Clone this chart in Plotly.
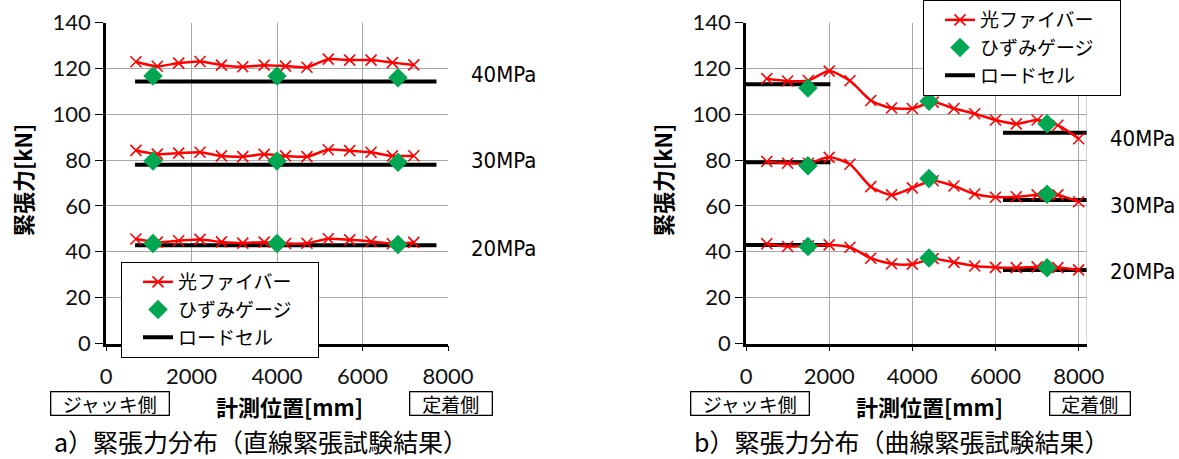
import plotly.graph_objects as go

W, H = 1179, 459

# ---------------- data ----------------
# a) straight tendon
a_fiber_x = [700, 1200, 1700, 2200, 2700, 3200, 3700, 4200, 4700, 5200, 5700, 6200, 6700, 7200]
a_fiber_40 = [122.9, 120.9, 122.3, 123.0, 121.4, 120.7, 121.4, 121.0, 120.5, 124.0, 123.6, 123.6, 122.5, 121.5]
a_fiber_30 = [84.2, 82.6, 83.0, 83.4, 81.8, 81.5, 82.5, 81.8, 81.5, 84.5, 84.1, 83.4, 81.8, 81.9]
a_fiber_20 = [45.6, 44.2, 44.8, 45.4, 44.3, 43.8, 44.2, 43.6, 43.7, 45.7, 45.2, 44.5, 43.5, 44.1]
a_gauge_x = [1100, 4000, 6830]
a_gauge_40 = [116.7, 116.7, 115.9]
a_gauge_30 = [79.6, 79.6, 79.0]
a_gauge_20 = [43.6, 43.6, 43.2]
a_cell_x = [680, 7730]
a_cell_40 = [114.3, 114.3]
a_cell_30 = [78.0, 78.0]
a_cell_20 = [42.8, 42.8]

# b) curved tendon
b_fiber_x = [500, 1000, 1500, 2000, 2500, 3000, 3500, 4000, 4500, 5000, 5500, 6000, 6500, 7000, 7500, 8000]
b_fiber_40 = [115.5, 114.5, 114.7, 118.8, 114.6, 106.0, 102.7, 102.5, 105.3, 102.5, 100.2, 97.5, 95.8, 97.5, 95.2, 89.3]
b_fiber_30 = [79.4, 78.6, 78.6, 81.2, 78.2, 68.4, 64.8, 67.9, 71.0, 68.7, 65.2, 63.8, 64.0, 64.8, 64.8, 61.8]
b_fiber_20 = [43.5, 42.3, 42.6, 43.0, 42.0, 37.2, 34.8, 34.6, 37.0, 35.4, 33.8, 33.2, 33.1, 33.4, 33.1, 32.1]
b_gauge_x = [1490, 4400, 7240]
b_gauge_40 = [111.4, 105.6, 95.8]
b_gauge_30 = [77.5, 72.0, 65.1]
b_gauge_20 = [42.3, 37.3, 33.0]
b_cell_left_x = [0, 2030]
b_cell_right_x = [6180, 8200]
b_cell_40 = [113.1, 91.9]
b_cell_30 = [79.0, 62.6]
b_cell_20 = [43.0, 32.1]

y_ticks = [0, 20, 40, 60, 80, 100, 120, 140]
x_ticks = [0, 2000, 4000, 6000, 8000]
names = ["光ファイバー", "ひずみゲージ", "ロードセル"]
levels = ["40MPa", "30MPa", "20MPa"]

# ---------------- style ----------------
RED = "#ff0000"
GREEN = "#00a651"
JP = "Noto Sans CJK JP"
NUM = "Lato, Noto Sans, sans-serif"
NARROW = "DejaVu Sans Condensed, Liberation Sans Narrow, sans-serif"
PAD = "\u00a0" * 5  # trailing blank to widen the legend box like the original


def px(x):
    return x / W


def py(y):
    return 1 - y / H


fig = go.Figure()


def add_panel(xa, ya, leg, fx, fys, gx, gys, cells):
    first = True
    for cx, cy in cells:
        fig.add_trace(go.Scatter(
            x=cx, y=cy, mode="lines", xaxis=xa, yaxis=ya,
            line=dict(color="black", width=4), name=names[2],
            legend=leg, legendgroup=leg + "c", showlegend=first, legendrank=3))
        first = False
    first = True
    for fy in fys:
        fig.add_trace(go.Scatter(
            x=fx, y=fy, mode="lines+markers", xaxis=xa, yaxis=ya,
            line=dict(color=RED, width=2.5, shape="spline", smoothing=0.7),
            marker=dict(symbol="x-thin", size=11, line=dict(color=RED, width=1.6), color=RED),
            name=names[0], legend=leg, legendgroup=leg + "f", showlegend=first, legendrank=1))
        first = False
    first = True
    for gy in gys:
        fig.add_trace(go.Scatter(
            x=gx, y=gy, mode="markers", xaxis=xa, yaxis=ya,
            marker=dict(symbol="diamond", size=15, color=GREEN),
            name=names[1] + PAD, legend=leg, legendgroup=leg + "g", showlegend=first,
            legendrank=2))
        first = False


add_panel("x", "y", "legend", a_fiber_x, [a_fiber_40, a_fiber_30, a_fiber_20],
          a_gauge_x, [a_gauge_40, a_gauge_30, a_gauge_20],
          [(a_cell_x, a_cell_40), (a_cell_x, a_cell_30), (a_cell_x, a_cell_20)])
add_panel("x2", "y2", "legend2", b_fiber_x, [b_fiber_40, b_fiber_30, b_fiber_20],
          b_gauge_x, [b_gauge_40, b_gauge_30, b_gauge_20],
          [(b_cell_left_x, [b_cell_40[0]] * 2), (b_cell_right_x, [b_cell_40[1]] * 2),
           (b_cell_left_x, [b_cell_30[0]] * 2), (b_cell_right_x, [b_cell_30[1]] * 2),
           (b_cell_left_x, [b_cell_20[0]] * 2), (b_cell_right_x, [b_cell_20[1]] * 2)])

ydom = [py(343.5), py(22.5)]
axis_common = dict(
    showline=True, linecolor="black", linewidth=2.5,
    showgrid=True, gridcolor="#a6a6a6", gridwidth=1,
    ticks="outside", tickcolor="black", tickwidth=1.2,
    tickfont=dict(family=NUM, size=22, color="#111111"), zeroline=False,
)
yaxis_style = dict(axis_common, range=[0, 140], tickvals=y_ticks, ticklen=8, domain=ydom)
xaxis_style = dict(axis_common, tickvals=x_ticks, ticklen=5, ticklabelstandoff=6)

legend_common = dict(xanchor="left", yanchor="top", bgcolor="white", bordercolor="black",
                     borderwidth=1, font=dict(family=JP, size=19, color="black"),
                     tracegroupgap=6, traceorder="normal", indentation=16)

fig.update_layout(
    width=W, height=H,
    margin=dict(l=0, r=0, t=0, b=0, autoexpand=False),
    paper_bgcolor="white", plot_bgcolor="white",
    xaxis=dict(xaxis_style, range=[0, 8000], domain=[px(106), px(448)], anchor="y"),
    yaxis=dict(yaxis_style, anchor="x"),
    xaxis2=dict(xaxis_style, range=[0, 8200], domain=[px(746), px(1087)], anchor="y2"),
    yaxis2=dict(yaxis_style, anchor="x2"),
    showlegend=True,
    legend=dict(legend_common, x=px(121), y=py(262)),
    legend2=dict(legend_common, x=px(923), y=py(0)),
)

# right border of panel b (gray, like the plot-area frame)
fig.add_shape(type="line", xref="x2", yref="y2", x0=8200, x1=8200, y0=0, y1=140,
              line=dict(color="#a6a6a6", width=1))

ann = []
base = dict(xref="paper", yref="paper", showarrow=False, xanchor="center", yanchor="middle")
for xc in (22, 662):
    ann.append(dict(base, x=px(xc), y=py(180), text="<b>緊張力[kN]</b>", textangle=-90,
                    font=dict(family=JP, size=22, color="black")))
for xc in (289, 929):
    ann.append(dict(base, x=px(xc), y=py(406), text="<b>計測位置[mm]</b>",
                    font=dict(family=JP, size=22, color="black")))
for xc, wd, txt in ((109.5, 117, "ジャッキ側"), (450.5, 81, "定着側"),
                    (749.5, 117, "ジャッキ側"), (1090, 79, "定着側")):
    ann.append(dict(base, x=px(xc), y=py(403), text=txt, width=wd, height=22,
                    bordercolor="black", borderwidth=1.3, borderpad=0,
                    bgcolor="white", font=dict(family=JP, size=19, color="black")))
ann.append(dict(base, x=px(52), y=py(441), xanchor="left",
                text="a）緊張力分布（直線緊張試験結果）",
                font=dict(family=JP, size=25, color="black")))
ann.append(dict(base, x=px(692), y=py(441), xanchor="left",
                text="b）緊張力分布（曲線緊張試験結果）",
                font=dict(family=JP, size=25, color="black")))
for lab, yy in zip(levels, (75, 160, 249)):
    ann.append(dict(base, x=px(469), y=py(yy), xanchor="left", text=lab,
                    font=dict(family=NARROW, size=22, color="black")))
for lab, yy in zip(levels, (139, 205, 271)):
    ann.append(dict(base, x=px(1108), y=py(yy), xanchor="left", text=lab,
                    font=dict(family=NARROW, size=22, color="black")))
fig.update_layout(annotations=ann)

fig.write_html("out.html")
